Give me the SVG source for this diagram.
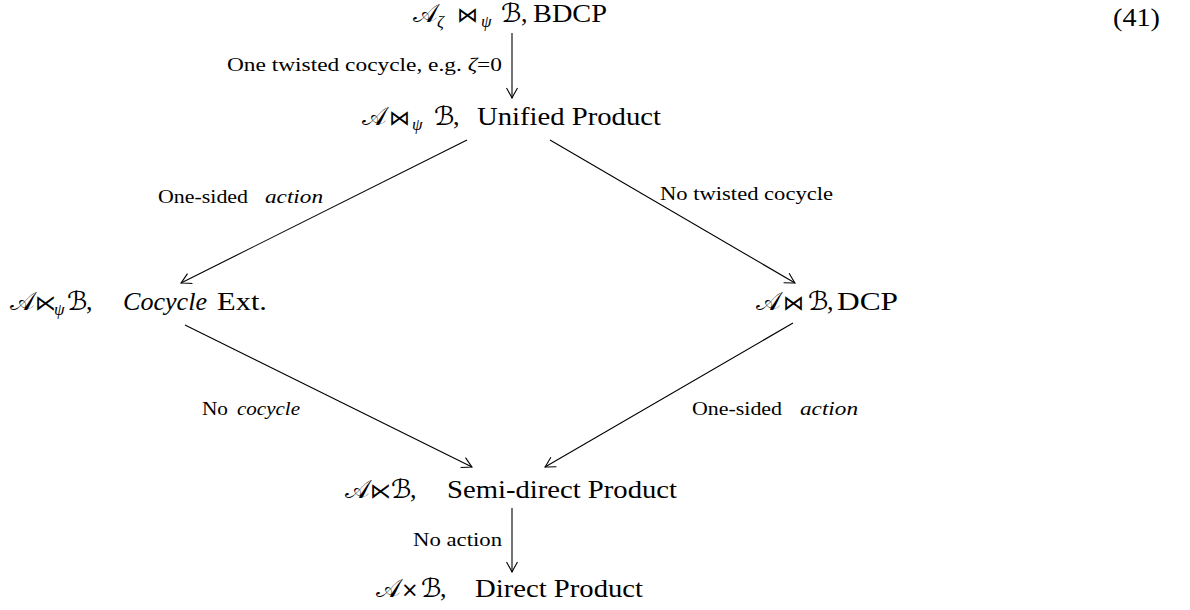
<svg xmlns="http://www.w3.org/2000/svg" width="1190" height="610" viewBox="0 0 1190 610">
<style>
.n{font-family:"Liberation Serif","DejaVu Serif",serif;font-size:26px;fill:#000}
.m{font-family:"DejaVu Serif","DejaVu Sans",serif;font-size:26px}
.o{font-family:"DejaVu Sans",serif;font-size:21px}
.s{font-family:"Liberation Serif",serif;font-size:17px;font-style:italic}
.l{font-family:"Liberation Serif","DejaVu Serif",serif;font-size:18px;fill:#000}
.i{font-style:italic}
.c{stroke:#000;stroke-width:1.1;fill:none;marker-end:url(#ah)}
</style>
<defs>
<marker id="ah" markerUnits="userSpaceOnUse" markerWidth="16" markerHeight="16" refX="0" refY="0" viewBox="-12 -8 14 16" orient="auto">
<path d="M-10,-5.5 Q-3,-1.5 0,0 Q-3,1.5 -10,5.5" fill="none" stroke="#000" stroke-width="1.1"/>
</marker>
</defs>
<g id="connectors">
<line class="c" x1="512" y1="33" x2="512" y2="98"/>
<line class="c" x1="467" y1="140" x2="181" y2="283"/>
<line class="c" x1="550" y1="140" x2="795" y2="283"/>
<line class="c" x1="185" y1="325" x2="472" y2="467"/>
<line class="c" x1="793" y1="323" x2="545" y2="467"/>
<line class="c" x1="512" y1="508" x2="512" y2="572"/>
</g>
<g id="labels">
<text class="l" x="227" y="71" textLength="275" lengthAdjust="spacingAndGlyphs">One twisted cocycle, e.g. <tspan class="i">ζ</tspan>=0</text>
<text class="l" y="203"><tspan x="158" textLength="90" lengthAdjust="spacingAndGlyphs">One-sided</tspan><tspan class="i" x="265" textLength="58" lengthAdjust="spacingAndGlyphs">action</tspan></text>
<text class="l" x="660" y="200" textLength="173" lengthAdjust="spacingAndGlyphs">No twisted cocycle</text>
<text class="l" y="415"><tspan x="202" textLength="26" lengthAdjust="spacingAndGlyphs">No</tspan><tspan class="i" x="237" textLength="63" lengthAdjust="spacingAndGlyphs">cocycle</tspan></text>
<text class="l" y="415"><tspan x="692" textLength="90" lengthAdjust="spacingAndGlyphs">One-sided</tspan><tspan class="i" x="800" textLength="58" lengthAdjust="spacingAndGlyphs">action</tspan></text>
<text class="l" x="413" y="546" textLength="89" lengthAdjust="spacingAndGlyphs">No action</text>
</g>
<g id="node-bdcp">
<text class="n" y="22"><tspan class="m" x="413">𝒜</tspan><tspan class="s" x="437" dy="5">ζ</tspan><tspan class="o" x="457" dy="-5">⋈</tspan><tspan class="s" x="481" dy="5">ψ</tspan><tspan class="m" x="501" dy="-5">ℬ</tspan><tspan x="521">,</tspan><tspan x="533" textLength="74" lengthAdjust="spacingAndGlyphs">BDCP</tspan></text>
</g>
<g id="node-unified">
<text class="n" y="125"><tspan class="m" x="362">𝒜</tspan><tspan class="o" x="389">⋈</tspan><tspan class="s" x="412" dy="5">ψ</tspan><tspan class="m" x="434" dy="-5">ℬ</tspan><tspan x="453">,</tspan><tspan x="477" textLength="184" lengthAdjust="spacingAndGlyphs">Unified Product</tspan></text>
</g>
<g id="node-cocycle">
<text class="n" y="310"><tspan class="m" x="10">𝒜</tspan><tspan class="o" x="35">⋉</tspan><tspan class="s" x="54" dy="5">ψ</tspan><tspan class="m" x="67" dy="-5">ℬ</tspan><tspan x="86">,</tspan><tspan class="i" x="123" textLength="84" lengthAdjust="spacingAndGlyphs">Cocycle</tspan><tspan x="217" textLength="50" lengthAdjust="spacingAndGlyphs">Ext.</tspan></text>
</g>
<g id="node-dcp">
<text class="n" y="310"><tspan class="m" x="756">𝒜</tspan><tspan class="o" x="783">⋈</tspan><tspan class="m" x="808">ℬ</tspan><tspan x="827">,</tspan><tspan x="837" textLength="61" lengthAdjust="spacingAndGlyphs">DCP</tspan></text>
</g>
<g id="node-semidirect">
<text class="n" y="498"><tspan class="m" x="345">𝒜</tspan><tspan class="o" x="370">⋉</tspan><tspan class="m" x="391">ℬ</tspan><tspan x="410">,</tspan><tspan x="447" textLength="230" lengthAdjust="spacingAndGlyphs">Semi-direct Product</tspan></text>
</g>
<g id="node-direct">
<text class="n" y="597"><tspan class="m" x="376">𝒜</tspan><tspan class="o" x="401">×</tspan><tspan class="m" x="421">ℬ</tspan><tspan x="440">,</tspan><tspan x="475" textLength="168" lengthAdjust="spacingAndGlyphs">Direct Product</tspan></text>
</g>
<g id="eqnum">
<text class="n" x="1113" y="26" textLength="47" lengthAdjust="spacingAndGlyphs">(41)</text>
</g>
</svg>
